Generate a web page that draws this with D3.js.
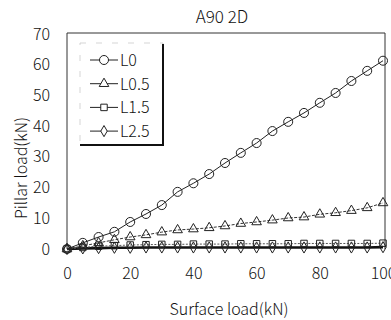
<!DOCTYPE html>
<html>
<head>
<meta charset="utf-8">
<script src="https://cdn.jsdelivr.net/npm/d3@7"></script>
<style>
  html, body { margin: 0; padding: 0; background: #fff; }
  svg { display: block; }
  text { font-family: "Noto Sans CJK KR", "Noto Sans", sans-serif; fill: #111; }
</style>
</head>
<body>
<svg id="chart" width="391" height="320"></svg>
<script>
// Surface load steps (kN)
const surfaceLoad = [0, 5, 10, 15, 20, 25, 30, 35, 40, 45, 50, 55, 60, 65, 70, 75, 80, 85, 90, 95, 100];

// Pillar load (kN) for each series
const seriesNames = ["L0", "L0.5", "L1.5", "L2.5"];
const loadL0 = [0, 2.0, 3.9, 5.6, 8.8, 11.4, 14.3, 18.6, 21.4, 24.4, 28.0, 31.3, 34.5, 38.4, 41.4, 44.3, 47.6, 50.8, 54.7, 58.0, 61.3];
const loadL05 = [0, 1.0, 2.0, 3.0, 3.9, 4.6, 5.5, 6.2, 6.5, 6.9, 7.5, 8.3, 8.8, 9.4, 10.1, 10.4, 11.3, 11.8, 12.5, 13.4, 15.0];
const loadL15 = [0, 0.5, 0.9, 1.1, 1.3, 1.4, 1.5, 1.5, 1.6, 1.6, 1.6, 1.7, 1.7, 1.7, 1.7, 1.8, 1.8, 1.8, 1.8, 1.8, 1.9];
const loadL25 = [0, 0.2, 0.3, 0.4, 0.4, 0.5, 0.5, 0.5, 0.5, 0.5, 0.5, 0.5, 0.5, 0.5, 0.5, 0.5, 0.5, 0.5, 0.5, 0.5, 0.6];

const xTicks = [0, 20, 40, 60, 80, 100];
const yTicks = [0, 10, 20, 30, 40, 50, 60, 70];

const svg = d3.select("#chart");
const margin = { left: 67, right: 8, top: 34, bottom: 71 };
const W = 391, H = 320;
const FS = 16;

const x = d3.scaleLinear().domain([0, 100]).range([margin.left, W - margin.right]);
const y = d3.scaleLinear().domain([0, 70]).range([H - margin.bottom, margin.top]);

// Title
svg.append("text").attr("x", 222).attr("y", 23).attr("text-anchor", "middle")
  .attr("font-size", 17).attr("font-weight", 300).text("A90 2D");

// Plot frame (left, top, right)
const x0 = x(0), x1 = x(100) + 2, yTop = y(70) - 1, yBot = y(0);
svg.append("path")
  .attr("d", `M${x0},${yBot}V${yTop}H${x1}V${yBot}`)
  .attr("fill", "none").attr("stroke", "#333").attr("stroke-width", 1);

// Axes (labels only)
const styleTicks = g => g.selectAll("text").attr("font-size", FS).attr("font-weight", 300)
  .attr("font-family", '"Noto Sans CJK KR", sans-serif').attr("fill", "#111");

svg.append("g").attr("transform", `translate(${x0},0)`)
  .call(d3.axisLeft(y).tickValues(yTicks).tickSize(0).tickPadding(17))
  .call(g => g.select(".domain").remove())
  .call(styleTicks);

svg.append("g").attr("transform", `translate(0,${yBot})`)
  .call(d3.axisBottom(x).tickValues(xTicks).tickSize(0).tickPadding(19))
  .call(g => g.select(".domain").remove())
  .call(styleTicks);

// Axis titles
svg.append("text").attr("x", 229).attr("y", 315).attr("text-anchor", "middle")
  .attr("font-size", FS).attr("font-weight", 300).text("Surface load(kN)");
svg.append("text").attr("transform", "translate(27,168) rotate(-90)")
  .attr("text-anchor", "middle").attr("font-size", FS).attr("font-weight", 300)
  .text("Pillar load(kN)");

// Marker shapes
const markerPath = {
  circle: d3.symbol().type(d3.symbolCircle).size(64),
  triangle: d3.symbol().type(d3.symbolTriangle).size(40),
  square: d3.symbol().type(d3.symbolSquare).size(42),
  diamond: d3.symbol().type(d3.symbolDiamond).size(36)
};

const series = [
  { name: seriesNames[0], values: loadL0, marker: "circle", dash: null, width: 1, color: "#222" },
  { name: seriesNames[1], values: loadL05, marker: "triangle", dash: "3,1.5", width: 1, color: "#333" },
  { name: seriesNames[2], values: loadL15, marker: "square", dash: "2,1.5", width: 1, color: "#555" },
  { name: seriesNames[3], values: loadL25, marker: "diamond", dash: null, width: 2.6, color: "#111" }
];

const line = d3.line().x((d, i) => x(surfaceLoad[i])).y(d => y(d));

// Draw from the bottom series up so the steep curve stays on top
[...series].reverse().forEach(s => {
  const g = svg.append("g");
  g.append("path").datum(s.values).attr("d", line)
    .attr("fill", "none").attr("stroke", s.color).attr("stroke-width", s.width)
    .attr("stroke-dasharray", s.dash);
  g.selectAll("path.m").data(s.values).join("path").attr("class", "m")
    .attr("transform", (d, i) => `translate(${x(surfaceLoad[i])},${y(d)})`)
    .attr("d", markerPath[s.marker])
    .attr("fill", "none").attr("stroke", "#222").attr("stroke-width", 1);
});

// Legend
const lg = svg.append("g");
const lx = 80, ly = 43, lw = 83, lh = 102;
lg.append("rect").attr("x", lx).attr("y", ly).attr("width", lw).attr("height", lh)
  .attr("fill", "#fff").attr("stroke", "#bbb").attr("stroke-width", 0.6)
  .attr("stroke-dasharray", "6,10");
lg.append("path").attr("d", `M${lx},${ly + lh}H${lx + lw}V${ly + 1}`)
  .attr("fill", "none").attr("stroke", "#111").attr("stroke-width", 2);
series.forEach((s, i) => {
  const cy = 60 + i * 23.7;
  lg.append("line").attr("x1", 90).attr("x2", 118).attr("y1", cy).attr("y2", cy)
    .attr("stroke", "#222").attr("stroke-width", 1);
  lg.append("path").attr("transform", `translate(104,${cy})`)
    .attr("d", markerPath[s.marker]).attr("fill", "#fff").attr("stroke", "#222").attr("stroke-width", 1);
  lg.append("text").attr("x", 120).attr("y", cy + 6).attr("font-size", FS)
    .attr("font-weight", 300).text(s.name);
});
</script>
</body>
</html>
